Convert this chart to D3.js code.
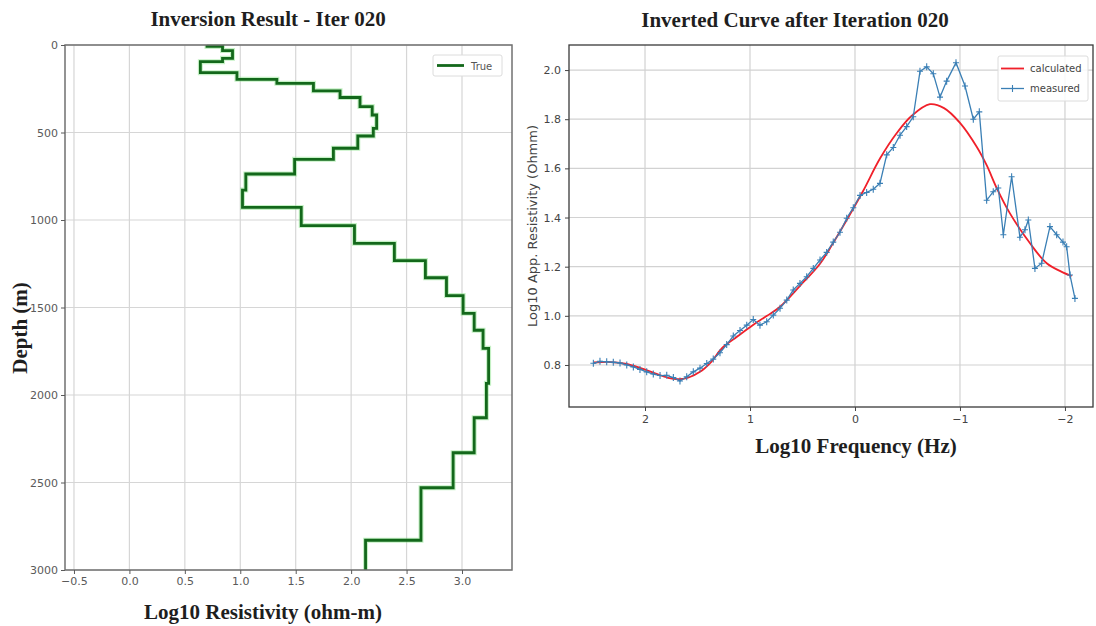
<!DOCTYPE html>
<html>
<head>
<meta charset="utf-8">
<script src="https://cdn.jsdelivr.net/npm/d3@7"></script>
<style>
  body { margin: 0; background: #fff; }
  svg { display: block; }
</style>
</head>
<body>
<svg id="fig" width="1096" height="626"></svg>
<script>
// ---------- Left panel: layered resistivity model ----------
const layerTopDepth = [0, 8, 32, 76, 95, 158, 196, 219, 262, 300, 352, 400, 476, 520, 590, 653,
                       737, 829, 928, 1032, 1133, 1232, 1330, 1432, 1533, 1630, 1733, 1933, 2130,
                       2330, 2530, 2830];
const layerLog10Res = [0.70, 0.84, 0.93, 0.84, 0.64, 0.97, 1.33, 1.66, 1.90, 2.08, 2.19, 2.23, 2.20,
                       2.06, 1.84, 1.49, 1.05, 1.02, 1.55, 2.03, 2.39, 2.67, 2.86, 3.01, 3.11, 3.19,
                       3.24, 3.22, 3.11, 2.92, 2.63, 2.13];
const maxDepth = 3000;
const resTicks = [-0.5, 0, 0.5, 1, 1.5, 2, 2.5, 3];
const depthTicks = [0, 500, 1000, 1500, 2000, 2500, 3000];

// ---------- Right panel: apparent resistivity sounding curve ----------
const measuredLogFreq = [2.492, 2.429, 2.365, 2.302, 2.238, 2.174, 2.111, 2.048, 1.984, 1.921,
  1.857, 1.793, 1.730, 1.667, 1.603, 1.540, 1.476, 1.412, 1.350, 1.286,
  1.222, 1.159, 1.095, 1.031, 0.969, 0.905, 0.841, 0.778, 0.714, 0.650,
  0.588, 0.524, 0.460, 0.397, 0.333, 0.270, 0.207, 0.143, 0.079, 0.016,
  -0.048, -0.111, -0.174, -0.238, -0.302, -0.365, -0.429, -0.492, -0.555, -0.619,
  -0.683, -0.746, -0.810, -0.873, -0.962, -1.048, -1.127, -1.184, -1.254, -1.317,
  -1.365, -1.413, -1.492, -1.571, -1.619, -1.651, -1.714, -1.778, -1.857, -1.921,
  -1.981, -2.016, -2.048, -2.095];
const measuredLogRho = [0.807, 0.815, 0.813, 0.811, 0.808, 0.800, 0.792, 0.782, 0.772, 0.763,
  0.757, 0.758, 0.749, 0.735, 0.752, 0.772, 0.787, 0.806, 0.824, 0.850,
  0.883, 0.918, 0.940, 0.962, 0.985, 0.962, 0.976, 1.003, 1.031, 1.064,
  1.105, 1.132, 1.159, 1.193, 1.227, 1.258, 1.300, 1.340, 1.397, 1.440,
  1.490, 1.502, 1.515, 1.539, 1.655, 1.685, 1.735, 1.770, 1.810, 1.995,
  2.013, 1.985, 1.890, 1.955, 2.030, 1.935, 1.800, 1.830, 1.470, 1.505,
  1.520, 1.330, 1.566, 1.320, 1.350, 1.390, 1.193, 1.214, 1.363, 1.330,
  1.300, 1.281, 1.166, 1.071];
const calculatedLogFreq = [2.49, 2.333, 2.19, 2.048, 1.905, 1.781, 1.686, 1.59, 1.476, 1.371,
  1.267, 1.124, 0.971, 0.838, 0.714, 0.524, 0.333, 0.21, 0.076, -0.076,
  -0.238, -0.4, -0.543, -0.714, -0.848, -1.0, -1.159, -1.254, -1.35, -1.476,
  -1.667, -1.826, -1.984, -2.064];
const calculatedLogRho = [0.810, 0.812, 0.805, 0.788, 0.766, 0.748, 0.742, 0.748, 0.772, 0.812,
  0.868, 0.915, 0.963, 1.000, 1.037, 1.122, 1.212, 1.295, 1.392, 1.507,
  1.640, 1.745, 1.815, 1.861, 1.845, 1.785, 1.688, 1.613, 1.520, 1.417,
  1.295, 1.214, 1.176, 1.162];
const freqTicks = [2, 1, 0, -1, -2];
const appResTicks = [0.8, 1.0, 1.2, 1.4, 1.6, 1.8, 2.0];

const svg = d3.select("#fig");
svg.append("rect").attr("width", 1096).attr("height", 626).attr("fill", "#fff");

const serif = "'Liberation Serif', 'Times New Roman', serif";
const sans = "'DejaVu Sans', sans-serif";

function drawGrid(g, xs, ys, xt, yt, color) {
  const [x0, x1] = xs.range();
  const [y0, y1] = ys.range();
  g.selectAll(".gx").data(xt).join("line")
    .attr("x1", d => xs(d)).attr("x2", d => xs(d))
    .attr("y1", y0).attr("y2", y1)
    .attr("stroke", color).attr("stroke-width", 1.2);
  g.selectAll(".gy").data(yt).join("line")
    .attr("class", "gy")
    .attr("x1", x0).attr("x2", x1)
    .attr("y1", d => ys(d)).attr("y2", d => ys(d))
    .attr("stroke", color).attr("stroke-width", 1.2);
}

function styleAxis(sel, color, size) {
  sel.select(".domain").remove();
  sel.selectAll(".tick line").attr("stroke", color);
  sel.selectAll(".tick text").attr("fill", color)
    .style("font-family", sans).style("font-size", size + "px");
}

function boldLabel(x, y, rot, text) {
  svg.append("text")
    .attr("transform", `translate(${x},${y})` + (rot ? ` rotate(${rot})` : ""))
    .attr("text-anchor", "middle")
    .style("font-family", serif).style("font-weight", "bold").style("font-size", "21px")
    .attr("fill", "#1e1e1e").text(text);
}

// ================= Left panel =================
const xL = d3.scaleLinear().domain([-0.581, 3.451]).range([65, 512]);
const yL = d3.scaleLinear().domain([0, maxDepth]).range([45, 570]);

const gL = svg.append("g");
drawGrid(gL.append("g"), xL, yL, resTicks, depthTicks, "#d6d6d6");

// step profile: each layer is a vertical run at constant resistivity
const stepPts = [];
layerLog10Res.forEach((v, i) => {
  const top = layerTopDepth[i];
  const bot = i + 1 < layerTopDepth.length ? layerTopDepth[i + 1] : maxDepth;
  stepPts.push([v, top], [v, bot]);
});
const lineL = d3.line().x(d => xL(d[0])).y(d => yL(d[1]));
gL.append("path").attr("d", lineL(stepPts))
  .attr("fill", "none").attr("stroke", "#7ee07e").attr("stroke-width", 5)
  .attr("stroke-opacity", 0.45).attr("stroke-linejoin", "miter");
gL.append("path").attr("d", lineL(stepPts))
  .attr("fill", "none").attr("stroke", "#13681b").attr("stroke-width", 2.8)
  .attr("stroke-linejoin", "miter");

gL.append("rect").attr("x", 65).attr("y", 45).attr("width", 447).attr("height", 525)
  .attr("fill", "none").attr("stroke", "#707070").attr("stroke-width", 1.5);

const axLB = gL.append("g").attr("transform", "translate(0,570)")
  .call(d3.axisBottom(xL).tickValues(resTicks).tickFormat(d3.format(".1f")).tickSize(4).tickPadding(3));
styleAxis(axLB, "#5a5a5a", 11);
const axLL = gL.append("g").attr("transform", "translate(65,0)")
  .call(d3.axisLeft(yL).tickValues(depthTicks).tickFormat(d3.format("d")).tickSize(4).tickPadding(3));
styleAxis(axLL, "#5a5a5a", 11);

// legend
const legL = gL.append("g");
legL.append("rect").attr("x", 433).attr("y", 55).attr("width", 69).attr("height", 21).attr("rx", 2)
  .attr("fill", "#fff").attr("stroke", "#dcdcdc");
legL.append("line").attr("x1", 437).attr("x2", 464).attr("y1", 65.5).attr("y2", 65.5)
  .attr("stroke", "#13681b").attr("stroke-width", 2.8);
legL.append("text").attr("x", 471).attr("y", 69.5).text("True")
  .attr("fill", "#555").style("font-family", sans).style("font-size", "10px");

boldLabel(268, 26, 0, "Inversion Result - Iter 020");
boldLabel(263, 619, 0, "Log10 Resistivity (ohm-m)");
boldLabel(27, 328, -90, "Depth (m)");

// ================= Right panel =================
const xR = d3.scaleLinear().domain([2.724, -2.267]).range([569, 1093]);
const yR = d3.scaleLinear().domain([0.629, 2.102]).range([407, 45]);

const gR = svg.append("g");
drawGrid(gR.append("g"), xR, yR, freqTicks, appResTicks, "#d2d2d2");

const calcPts = calculatedLogFreq.map((f, i) => [f, calculatedLogRho[i]]);
const measPts = measuredLogFreq.map((f, i) => [f, measuredLogRho[i]]);

gR.append("path")
  .attr("d", d3.line().x(d => xR(d[0])).y(d => yR(d[1])).curve(d3.curveCatmullRom)(calcPts))
  .attr("fill", "none").attr("stroke", "#f0202a").attr("stroke-width", 1.8);

gR.append("path")
  .attr("d", d3.line().x(d => xR(d[0])).y(d => yR(d[1]))(measPts))
  .attr("fill", "none").attr("stroke", "#3a7fb5").attr("stroke-width", 1.3);
gR.selectAll(".mk").data(measPts).join("path")
  .attr("transform", d => `translate(${xR(d[0])},${yR(d[1])})`)
  .attr("d", "M-3,0H3M0,-3.5V3.5")
  .attr("stroke", "#3a7fb5").attr("stroke-width", 1.1);

gR.append("rect").attr("x", 569).attr("y", 45).attr("width", 524).attr("height", 362)
  .attr("fill", "none").attr("stroke", "#3a3a3a").attr("stroke-width", 1.3);

const axRB = gR.append("g").attr("transform", "translate(0,407)")
  .call(d3.axisBottom(xR).tickValues(freqTicks).tickFormat(d3.format("d")).tickSize(4).tickPadding(4));
styleAxis(axRB, "#444", 11);
const axRL = gR.append("g").attr("transform", "translate(569,0)")
  .call(d3.axisLeft(yR).tickValues(appResTicks).tickFormat(d3.format(".1f")).tickSize(4).tickPadding(4));
styleAxis(axRL, "#444", 11);

// legend
const legR = gR.append("g");
legR.append("rect").attr("x", 998).attr("y", 56).attr("width", 90).attr("height", 45).attr("rx", 2)
  .attr("fill", "#fff").attr("fill-opacity", 0.85).attr("stroke", "#dcdcdc");
legR.append("line").attr("x1", 1001).attr("x2", 1024).attr("y1", 68.5).attr("y2", 68.5)
  .attr("stroke", "#f0202a").attr("stroke-width", 1.8);
legR.append("text").attr("x", 1030).attr("y", 72).text("calculated")
  .attr("fill", "#444").style("font-family", sans).style("font-size", "10px");
legR.append("line").attr("x1", 1001).attr("x2", 1024).attr("y1", 88.5).attr("y2", 88.5)
  .attr("stroke", "#3a7fb5").attr("stroke-width", 1.3);
legR.append("path").attr("d", "M1009.5,88.5H1015.5M1012.5,85V92")
  .attr("stroke", "#3a7fb5").attr("stroke-width", 1.1);
legR.append("text").attr("x", 1030).attr("y", 92).text("measured")
  .attr("fill", "#444").style("font-family", sans).style("font-size", "10px");

boldLabel(795, 27, 0, "Inverted Curve after Iteration 020");
boldLabel(856, 453, 0, "Log10 Frequency (Hz)");
svg.append("text").attr("transform", "translate(537,226) rotate(-90)").attr("text-anchor", "middle")
  .style("font-family", sans).style("font-size", "13px")
  .attr("fill", "#444").text("Log10 App. Resistivity (Ohmm)");
</script>
</body>
</html>
